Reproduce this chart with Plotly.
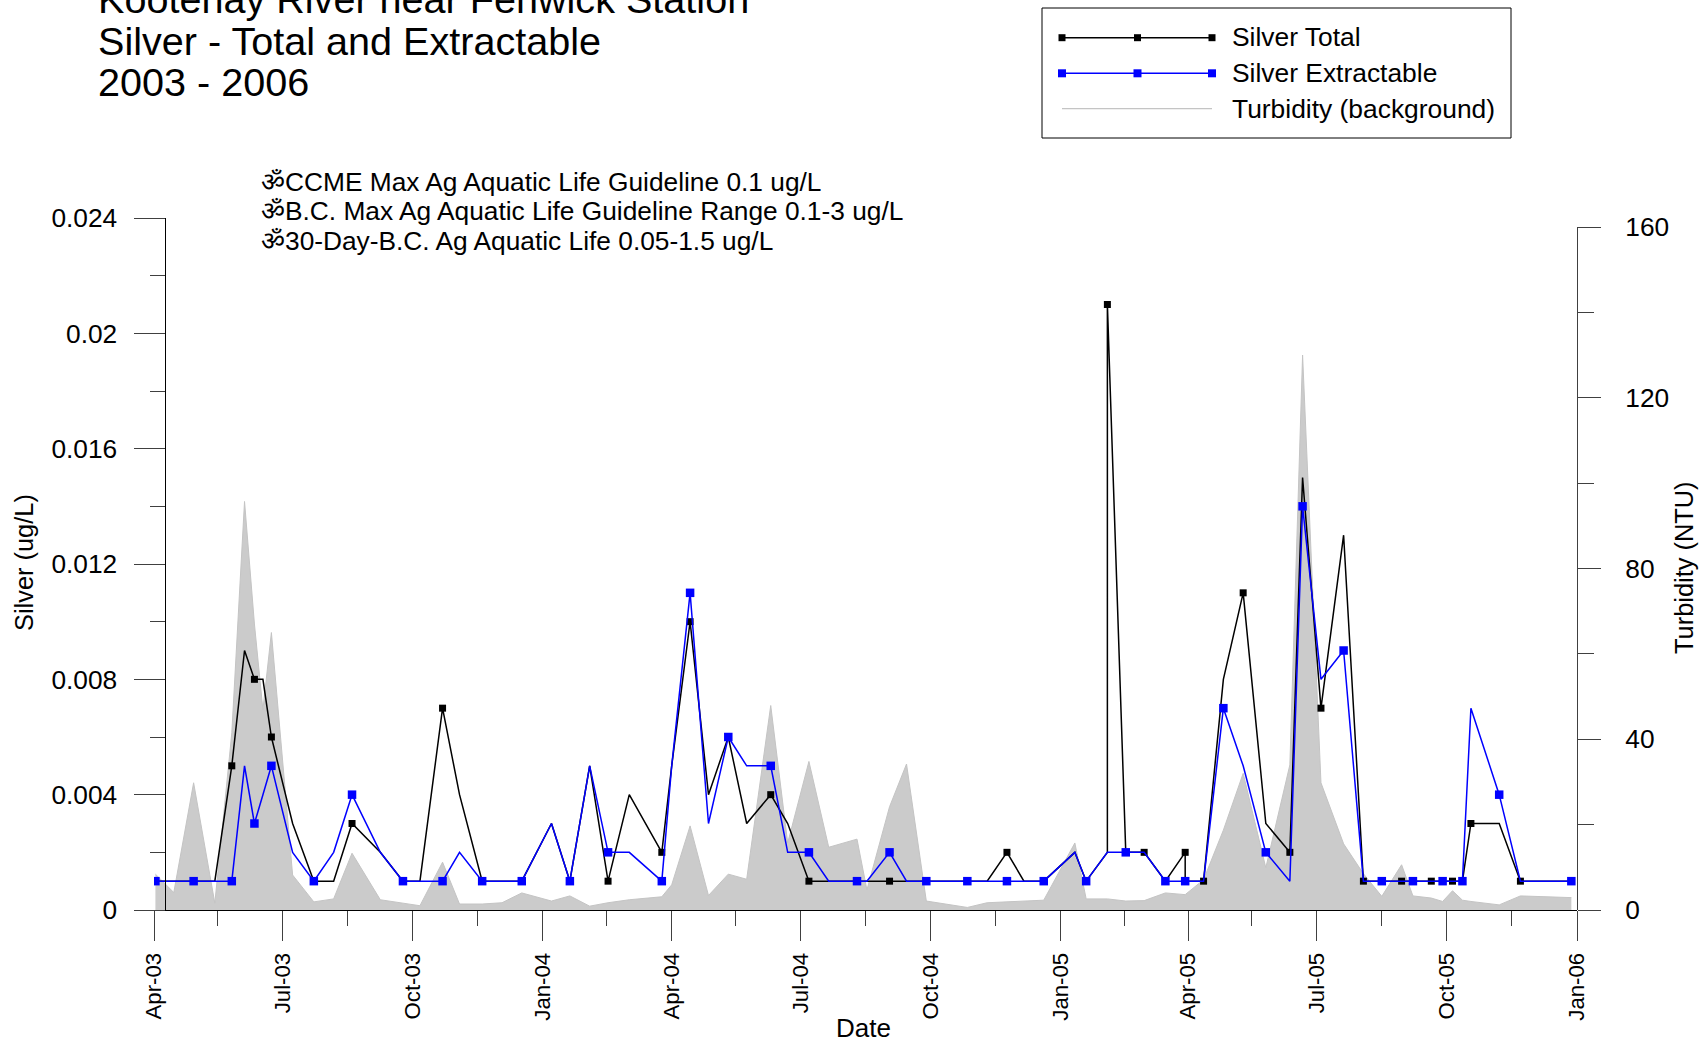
import plotly.graph_objects as go

W, H = 1707, 1042

SAMPLE_DATES = [
 "2003-04-02","2003-04-15","2003-04-29","2003-05-14","2003-05-26","2003-06-04","2003-06-11","2003-06-17","2003-06-23","2003-07-08",
 "2003-07-23","2003-08-06","2003-08-19","2003-09-08","2003-09-24","2003-10-06","2003-10-22","2003-11-03","2003-11-19","2003-12-03",
 "2003-12-17","2004-01-07","2004-01-20","2004-02-03","2004-02-16","2004-03-02","2004-03-25","2004-04-01","2004-04-14","2004-04-27",
 "2004-05-11","2004-05-24","2004-06-10","2004-06-22","2004-07-07","2004-07-21","2004-08-10","2004-08-17","2004-09-02","2004-09-14",
 "2004-09-28","2004-10-12","2004-10-27","2004-11-10","2004-11-24","2004-12-06","2004-12-20","2005-01-11","2005-01-19","2005-02-03",
 "2005-02-16","2005-03-01","2005-03-16","2005-03-30","2005-04-12","2005-04-26","2005-05-10","2005-05-26","2005-06-12","2005-06-21",
 "2005-07-04","2005-07-20","2005-08-03","2005-08-16","2005-08-30","2005-09-07","2005-09-20","2005-09-28","2005-10-05","2005-10-12",
 "2005-10-18","2005-11-07","2005-11-22","2005-12-28"]

TOTAL_DATES = sorted(SAMPLE_DATES + ["2005-02-03", "2005-03-30"])
EXTRACT_DATES = sorted(SAMPLE_DATES + ["2005-03-23"])

SILVER_TOTAL = [
 .001,.001,.001,.001,.005,.009,.008,.008,.006,.003,
 .001,.001,.003,.002,.001,.001,.007,.004,.001,.001,
 .001,.003,.001,.005,.001,.004,.002,.005,.010,.004,
 .006,.003,.004,.003,.001,.001,.001,.001,.001,.001,
 .001,.001,.001,.001,.002,.001,.001,.002,.001,.002,.021,
 .002,.002,.001,.002,.001,.001,.008,.011,.003,.002,.015,
 .007,.013,.001,.001,.001,.001,.001,.001,.001,.001,
 .003,.003,.001,.001]

SILVER_EXTRACT = [
 .001,.001,.001,.001,.001,.005,.003,.004,.005,.002,
 .001,.002,.004,.002,.001,.001,.001,.002,.001,.001,
 .001,.003,.001,.005,.002,.002,.001,.005,.011,.003,
 .006,.005,.005,.002,.002,.001,.001,.001,.002,.001,
 .001,.001,.001,.001,.001,.001,.001,.002,.001,.002,
 .002,.002,.001,.001,.001,.001,.007,.005,.002,.001,.014,
 .008,.009,.001,.001,.001,.001,.001,.001,.001,.001,
 .007,.004,.001,.001]

TURBIDITY = [
 8.4,4.1,29.8,1.6,41.5,95.7,67,46.9,65,8.2,
 1.9,2.6,13.3,2.4,1.6,1,11.2,1.4,1.4,1.7,
 4,2.1,3.3,.9,1.7,2.4,3.1,5.9,19.7,3.4,
 8.4,7.2,47.9,15.7,34.8,14.7,16.6,4.7,24.2,34.2,
 2.1,1.4,.6,1.7,1.9,2,2.3,15.7,2.6,2.6,
 2.1,2.2,4,3.6,7.1,18.7,32,9.9,34,130,
 29.8,15.5,8.5,3.2,10.6,3.3,2.8,2,4.5,2.3,
 2,1.2,3.3,2.9]

MINOR_MONTHS = ["2003-05-16","2003-08-16","2003-11-16","2004-02-15","2004-05-16","2004-08-16","2004-11-16",
                "2005-02-15","2005-05-16","2005-08-16","2005-11-16"]

TITLE_LINES = ["Kootenay River near Fenwick Station", "Silver - Total and Extractable", "2003 - 2006"]
NOTES = ["ॐCCME Max Ag Aquatic Life Guideline 0.1 ug/L",
         "ॐB.C. Max Ag Aquatic Life Guideline Range 0.1-3 ug/L",
         "ॐ30-Day-B.C. Ag Aquatic Life 0.05-1.5 ug/L"]
LEGEND_NAMES = ["Silver Total", "Silver Extractable", "Turbidity (background)"]

FONT = "Liberation Sans, Arial, sans-serif"
BLACK, BLUE, GREY = "#000000", "#0000ff", "#cbcbcb"
TICK = "#404040"
def px(x): return x / W
def py(y): return 1 - y / H

fig = go.Figure()
fig.add_trace(go.Scatter(x=SAMPLE_DATES, y=TURBIDITY, name=LEGEND_NAMES[2], mode="lines", fill="tozeroy",
                         fillcolor=GREY, line=dict(color="#c4c4c4", width=1), yaxis="y", showlegend=False))
fig.add_trace(go.Scatter(x=TOTAL_DATES, y=SILVER_TOTAL, name=LEGEND_NAMES[0], mode="lines",
                         line=dict(color=BLACK, width=1.5), yaxis="y2", showlegend=False))
fig.add_trace(go.Scatter(x=TOTAL_DATES[::2], y=SILVER_TOTAL[::2], name=LEGEND_NAMES[0], mode="markers",
                         marker=dict(symbol="square", size=7, color=BLACK), yaxis="y2", showlegend=False))
fig.add_trace(go.Scatter(x=EXTRACT_DATES, y=SILVER_EXTRACT, name=LEGEND_NAMES[1], mode="lines",
                         line=dict(color=BLUE, width=1.5), yaxis="y2", showlegend=False))
fig.add_trace(go.Scatter(x=EXTRACT_DATES[::2], y=SILVER_EXTRACT[::2], name=LEGEND_NAMES[1], mode="markers",
                         marker=dict(symbol="square", size=8.5, color=BLUE), yaxis="y2", showlegend=False))

ann = []
for y, t in zip([-1, 40.7, 82.3], TITLE_LINES):
    ann.append(dict(x=px(97), y=py(y), text=t, font=dict(size=39.6, family=FONT, color="black")))
for y, t in zip([181.5, 210.5, 240.5], NOTES):
    ann.append(dict(x=px(260), y=py(y), text=t, font=dict(size=26.3, family=FONT, color="black")))
for y, t in zip([37, 73, 108.7], LEGEND_NAMES):
    ann.append(dict(x=px(1231), y=py(y), text=t, font=dict(size=26.4, family=FONT, color="black")))
for a in ann:
    a.update(xref="paper", yref="paper", xanchor="left", yanchor="middle", showarrow=False, borderpad=0)
ann.append(dict(x=px(24), y=py(563), text="Silver (ug/L)", textangle=-90, xref="paper", yref="paper",
                xanchor="center", yanchor="middle", showarrow=False, font=dict(size=25.4, family=FONT, color="black")))
ann.append(dict(x=px(1684), y=py(568), text="Turbidity (NTU)", textangle=-90, xref="paper", yref="paper",
                xanchor="center", yanchor="middle", showarrow=False, font=dict(size=25.4, family=FONT, color="black")))
ann.append(dict(x=px(863), y=py(1028), text="Date", xref="paper", yref="paper",
                xanchor="center", yanchor="middle", showarrow=False, font=dict(size=26, family=FONT, color="black")))

shapes = [dict(type="rect", xref="paper", yref="paper", x0=px(1042), x1=px(1511), y0=py(8), y1=py(138),
               line=dict(color="black", width=1), fillcolor="rgba(0,0,0,0)")]
for y, c, s in [(37.7, BLACK, 3.5), (73.3, BLUE, 4)]:
    shapes.append(dict(type="line", xref="paper", yref="paper", x0=px(1062), x1=px(1212), y0=py(y), y1=py(y),
                       line=dict(color=c, width=1.5)))
    for x in (1062, 1137.5, 1212):
        shapes.append(dict(type="rect", xref="paper", yref="paper", x0=px(x - s), x1=px(x + s), y0=py(y - s), y1=py(y + s),
                           fillcolor=c, line=dict(width=0)))
shapes.append(dict(type="line", xref="paper", yref="paper", x0=px(1062), x1=px(1212), y0=py(108.7), y1=py(108.7),
                   line=dict(color="#c4c4c4", width=1.3)))

tickfont = dict(size=26.3, family=FONT, color="black")
xtickfont = dict(size=22.2, family=FONT, color="black")
fig.update_layout(
    width=W, height=H, autosize=False, margin=dict(l=0, r=0, t=0, b=0, autoexpand=False),
    paper_bgcolor="white", plot_bgcolor="rgba(0,0,0,0)", showlegend=False,
    annotations=ann, shapes=shapes,
    xaxis=dict(type="date", domain=[px(154), px(1577)], range=["2003-04-01", "2006-01-01"], anchor="y",
               automargin=False, tick0="2003-04-01", dtick="M3", tickformat="%b-%y", tickangle=-90,
               showgrid=False, zeroline=False, showline=True, linecolor="black", linewidth=1,
               ticks="outside", ticklen=30, tickcolor=TICK, tickwidth=1, tickfont=xtickfont, ticklabelstandoff=3,
               minor=dict(tickmode="array", tickvals=MINOR_MONTHS, ticks="outside", ticklen=15,
                          tickcolor=TICK, tickwidth=1, showgrid=False)),
    yaxis=dict(domain=[py(910), py(227)], range=[0, 160], side="right", anchor="free", position=px(1577),
               automargin=False, tick0=0, dtick=40, showgrid=False, zeroline=False, showline=True, linecolor=TICK, linewidth=1,
               ticks="outside", ticklen=23, tickcolor=TICK, tickwidth=1, tickfont=tickfont, ticklabelstandoff=19,
               minor=dict(dtick=20, ticks="outside", ticklen=16, tickcolor=TICK, tickwidth=1, showgrid=False)),
    yaxis2=dict(domain=[py(910), py(218)], range=[0, 0.024], side="left", anchor="free", position=px(164.5),
                automargin=False, tick0=0, dtick=0.004, tickformat=".3~f", showgrid=False, zeroline=False, showline=True,
                linecolor="black", linewidth=1, ticks="outside", ticklen=31, tickcolor=TICK, tickwidth=1,
                tickfont=tickfont, ticklabelstandoff=11,
                minor=dict(dtick=0.002, ticks="outside", ticklen=15, tickcolor=TICK, tickwidth=1, showgrid=False)),
)
fig.write_html("out.html", config={"displayModeBar": False},
               post_script="document.body.style.margin='0';document.body.style.overflow='hidden';")
